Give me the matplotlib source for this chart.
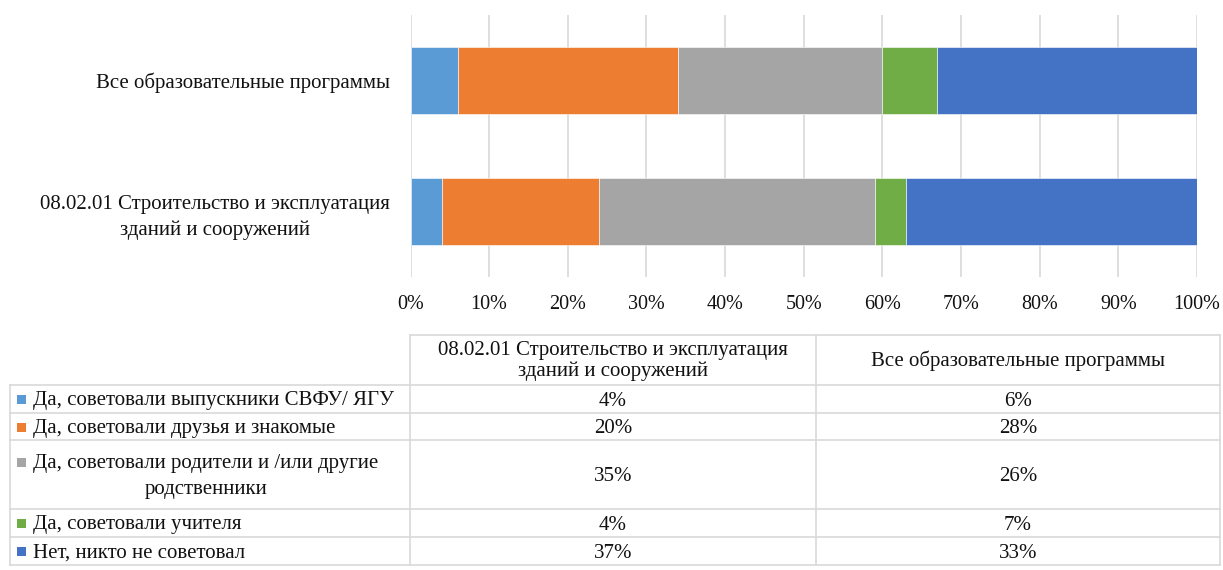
"""
Stacked 100% bar chart (Excel style) with a data table underneath.
"""
import matplotlib
matplotlib.use("Agg")
import matplotlib.pyplot as plt
from matplotlib.patches import Rectangle

plt.rcParams["font.family"] = ["Liberation Serif", "DejaVu Serif"]

# --------------------------------------------------------------------------- #
# Data
# --------------------------------------------------------------------------- #
programs = [
    "08.02.01 Строительство и эксплуатация\nзданий и сооружений",
    "Все образовательные программы",
]
answers = [
    "Да, советовали выпускники СВФУ/ ЯГУ",
    "Да, советовали друзья и знакомые",
    "Да, советовали родители и /или другие\nродственники",
    "Да, советовали учителя",
    "Нет, никто не советовал",
]
# percent per answer, in the order of `programs`
graduates = [4, 6]
friends = [20, 28]
parents = [35, 26]
teachers = [4, 7]
nobody = [37, 33]
series = [graduates, friends, parents, teachers, nobody]

colors = ["#5B9BD5", "#ED7D31", "#A5A5A5", "#70AD47", "#4472C4"]
xticks = [0, 10, 20, 30, 40, 50, 60, 70, 80, 90, 100]

W, H = 1223, 570
FS = 15
TXT = "#111111"
GRID = "#d9d9d9"

fig = plt.figure(figsize=(W / 100, H / 100), dpi=100)

# --------------------------------------------------------------------------- #
# Bars
# --------------------------------------------------------------------------- #
x0, x1, ytop, ybot = 410.5, 1197, 15, 277
ax = fig.add_axes([x0 / W, 1 - ybot / H, (x1 - x0) / W, (ybot - ytop) / H])
ypos = list(range(len(programs)))
left = [0] * len(programs)
for vals, c, name in zip(series, colors, answers):
    ax.barh(ypos, vals, left=left, height=0.51, color=c, label=name,
            edgecolor="white", linewidth=0.4, zorder=3)
    left = [a + b for a, b in zip(left, vals)]

ax.set_xlim(0, 100)
ax.set_ylim(-0.5, 1.5)
ax.set_xticks(xticks)
ax.set_xticklabels([f"{t}%" for t in xticks])
ax.set_yticks(ypos)
ax.set_yticklabels(programs, multialignment="center", linespacing=1.45)
ax.tick_params(axis="both", length=0, labelsize=FS, colors=TXT)
ax.tick_params(axis="x", labelsize=14.5, pad=13)
ax.tick_params(axis="y", pad=15)
ax.grid(axis="x", color=GRID, linewidth=1.2, zorder=0)
for s in ax.spines.values():
    s.set_visible(False)

# --------------------------------------------------------------------------- #
# Data table (pixel coordinates on an overlay axes)
# --------------------------------------------------------------------------- #
tab = fig.add_axes([0, 0, 1, 1])
tab.set_xlim(0, W)
tab.set_ylim(H, 0)
tab.axis("off")

col_x = [10, 410, 816, 1220]
head_top, head_bot = 335, 385
row_y = [385, 413, 440, 509, 537, 565]
lw = 1.2

# horizontal lines
tab.plot([col_x[1], col_x[3]], [head_top, head_top], color=GRID, lw=lw)
for y in row_y:
    tab.plot([col_x[0], col_x[3]], [y, y], color=GRID, lw=lw)
# vertical lines
tab.plot([col_x[0], col_x[0]], [row_y[0], row_y[-1]], color=GRID, lw=lw)
for x in col_x[1:]:
    tab.plot([x, x], [head_top, row_y[-1]], color=GRID, lw=lw)

# header
for i, name in enumerate(programs):
    cx = (col_x[i + 1] + col_x[i + 2]) / 2
    tab.text(cx, (head_top + head_bot) / 2 + 1, name, ha="center", va="center",
             multialignment="center", fontsize=FS, color=TXT, linespacing=1.1)

# rows
for r, (name, vals, c) in enumerate(zip(answers, series, colors)):
    cy = (row_y[r] + row_y[r + 1]) / 2 + 2
    first_line_y = cy if "\n" not in name else cy - 13
    tab.add_patch(Rectangle((17, first_line_y - 6), 9, 9, color=c, lw=0))
    tab.text(33, cy, name, ha="left", va="center", multialignment="center",
             fontsize=FS, color=TXT, linespacing=1.45)
    for i, v in enumerate(vals):
        cx = (col_x[i + 1] + col_x[i + 2]) / 2
        tab.text(cx, cy, f"{v}%", ha="center", va="center",
                 fontsize=FS, color=TXT)

fig.savefig("out.png", dpi=100)
